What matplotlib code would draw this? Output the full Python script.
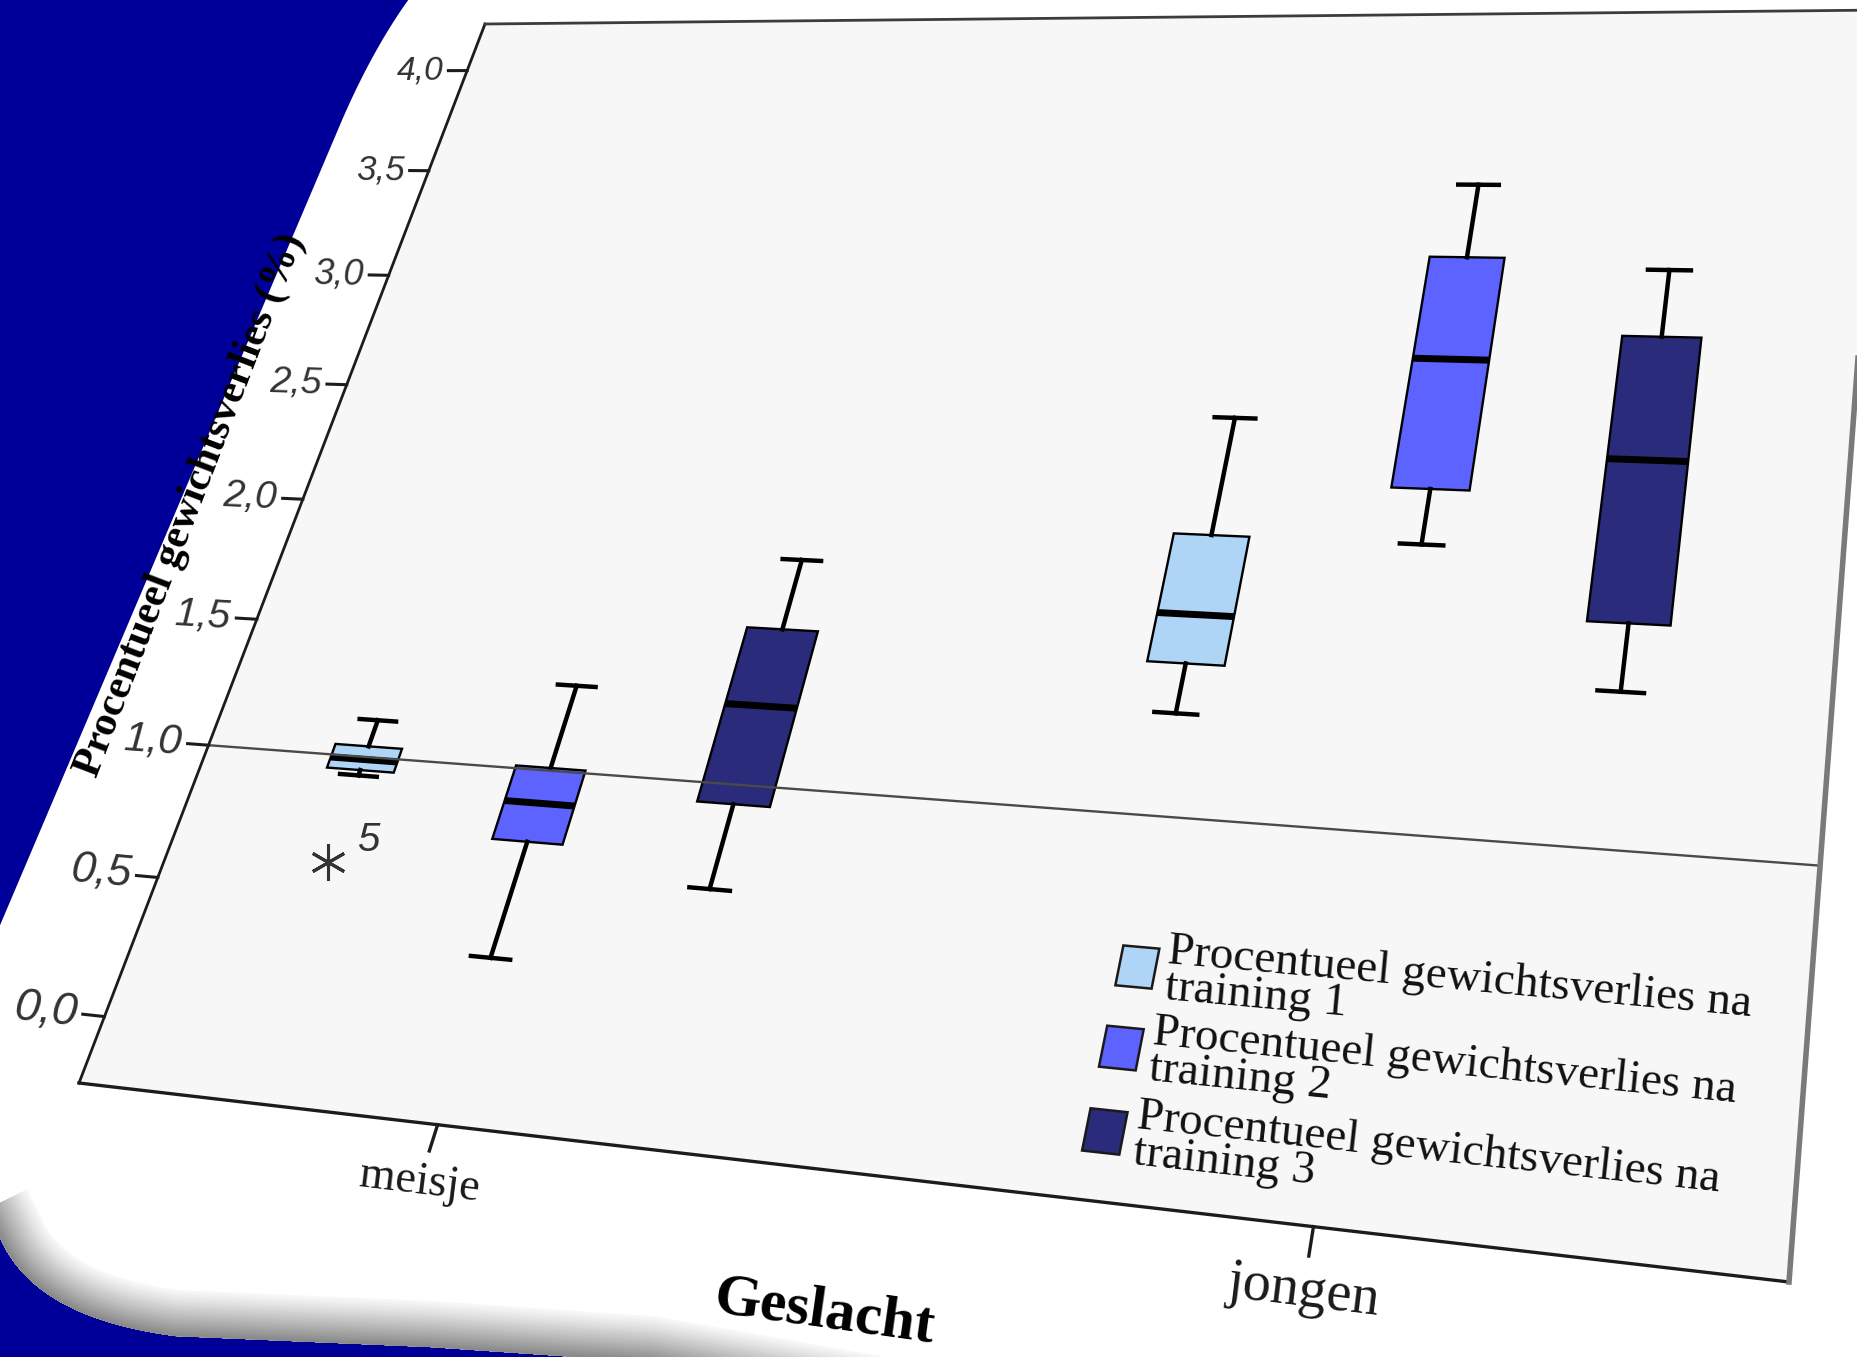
import numpy as np
import matplotlib
matplotlib.use("Agg")
import matplotlib.pyplot as plt
from matplotlib import transforms as mtransforms
from matplotlib.patches import Polygon
from matplotlib.path import Path

# ---------------------------------------------------------------- data
groups = ["meisje", "jongen"]
series_labels = [
    "Procentueel gewichtsverlies na\ntraining 1",
    "Procentueel gewichtsverlies na\ntraining 2",
    "Procentueel gewichtsverlies na\ntraining 3",
]
series_colors = ["#aed5f5", "#5d63fe", "#2a2b7b"]

# five-number summaries per group (meisje, jongen)
t1_low = [0.93, 1.36]
t1_q1 = [0.95, 1.54]
t1_med = [0.99, 1.72]
t1_q3 = [1.04, 2.02]
t1_high = [1.14, 2.48]

t2_low = [0.33, 2.02]
t2_q1 = [0.74, 2.23]
t2_med = [0.88, 2.74]
t2_q3 = [1.01, 3.16]
t2_high = [1.32, 3.47]

t3_low = [0.63, 1.53]
t3_q1 = [0.93, 1.77]
t3_med = [1.29, 2.37]
t3_q3 = [1.58, 2.85]
t3_high = [1.85, 3.12]

# extreme value: meisje, training 1, case number 5
t1_extremes = [[0.61], []]
t1_extreme_ids = [["5"], []]

reference_value = 1.0
y_ticks = [0.0, 0.5, 1.0, 1.5, 2.0, 2.5, 3.0, 3.5, 4.0]
y_tick_labels = ["0,0", "0,5", "1,0", "1,5", "2,0", "2,5", "3,0", "3,5", "4,0"]
y_label = "Procentueel gewichtsverlies (%)"
x_label = "Geslacht"

# ---------------------------------------------------------------- figure
W, H = 1858, 1357
DPI = 100
fig = plt.figure(figsize=(W / DPI, H / DPI), dpi=DPI)
fig.patch.set_facecolor("#000099")

SERIF = "Liberation Serif"
SANS = "Liberation Sans"

# slide shape behind the chart, in image pixel coordinates
bg = fig.add_axes([0, 0, 1, 1])
bg.set_xlim(0, W)
bg.set_ylim(H, 0)
bg.set_axis_off()
bg.patch.set_visible(False)


def bezier(p0, p1, p2, p3, n=40):
    t = np.linspace(0, 1, n)[:, None]
    p0, p1, p2, p3 = (np.asarray(p, float) for p in (p0, p1, p2, p3))
    return ((1 - t) ** 3 * p0 + 3 * (1 - t) ** 2 * t * p1
            + 3 * (1 - t) * t ** 2 * p2 + t ** 3 * p3)


top_curve = bezier((412, -5), (396, 16), (366, 62), (337, 132))
corner_curve = bezier((0, 1238), (25, 1294), (85, 1324), (175, 1336))
bottom_edge = np.vstack([[(-14, 1210)], corner_curve,
                         [(430, 1347), (650, 1362), (950, 1415),
                          (1200, 1460)]])

slide_outline = np.vstack([[(W + 5, -5)], top_curve,
                           [(-2, 930), (-20, 930), (-20, 1180)],
                           bottom_edge,
                           [(W + 5, 1460)]])
slide = Polygon(slide_outline, closed=True, facecolor="white",
                edgecolor="none", zorder=0)
bg.add_patch(slide)

# soft grey rim along the lower-left edge of the slide
d = np.gradient(bottom_edge, axis=0)
d /= np.hypot(d[:, 0], d[:, 1])[:, None]
inward = np.column_stack([d[:, 1], -d[:, 0]])
n_steps = 22
for i in range(n_steps):
    f = i / (n_steps - 1)
    depth = 46 - 44 * f
    g = 0.97 - 0.43 * f ** 1.1
    inner = bottom_edge + inward * depth
    band = Polygon(np.vstack([bottom_edge - inward * 2, inner[::-1]]),
                   closed=True, facecolor=(g, g, g), edgecolor="none",
                   zorder=1)
    band.set_clip_path(slide)
    bg.add_patch(band)

# ---------------------------------------------------------------- chart
class QuadTransform(mtransforms.Transform):
    """Projective map from the unit square onto a quadrilateral."""
    input_dims = 2
    output_dims = 2
    is_separable = False
    has_inverse = False

    def __init__(self, matrix):
        super().__init__()
        self.matrix = np.asarray(matrix, float)

    def transform_non_affine(self, values):
        v = np.atleast_2d(np.asarray(values, float))
        p = np.column_stack([v, np.ones(len(v))]) @ self.matrix.T
        return p[:, :2] / p[:, 2:3]


def solve_homography(src, dst):
    rows, rhs = [], []
    for (x, y), (u, v) in zip(src, dst):
        rows.append([x, y, 1, 0, 0, 0, -u * x, -u * y]); rhs.append(u)
        rows.append([0, 0, 0, x, y, 1, -v * x, -v * y]); rhs.append(v)
    h = np.linalg.solve(np.array(rows, float), np.array(rhs, float))
    return np.append(h, 1.0).reshape(3, 3)


# frame corners of the plot area (display pixels, origin bottom-left)
corner_bl = (79, H - 1083)
corner_br = (1789, H - 1282)
corner_tr = (1884, H - 10)
corner_tl = (485, H - 24)
Hm = solve_homography([(0, 0), (1, 0), (1, 1), (0, 1)],
                      [corner_bl, corner_br, corner_tr, corner_tl])

ax = fig.add_axes([0, 0, 1, 1])
ax.set_axis_off()
ax.patch.set_visible(False)

XMIN, XMAX = 0.53, 2.47
YMIN, YMAX = -0.23, 4.24

trans_frac = QuadTransform(Hm)

# boxplots, drawn by matplotlib's bxp and then mapped through the perspective
centers = np.array([1.0, 2.0])
offsets = [-0.25, 0.0, 0.245]
box_w = 0.092
summaries = [
    (t1_low, t1_q1, t1_med, t1_q3, t1_high),
    (t2_low, t2_q1, t2_med, t2_q3, t2_high),
    (t3_low, t3_q1, t3_med, t3_q3, t3_high),
]
artists_all = []
for k, (lo, q1, md, q3, hi) in enumerate(summaries):
    stats = []
    for g in range(len(groups)):
        fl = t1_extremes[g] if k == 0 else []
        stats.append(dict(med=md[g], q1=q1[g], q3=q3[g], whislo=lo[g],
                          whishi=hi[g], fliers=np.array(fl, float)))
    res = ax.bxp(stats, positions=centers + offsets[k], widths=box_w,
                 capwidths=box_w * 0.55, patch_artist=True,
                 boxprops=dict(facecolor=series_colors[k], edgecolor="black",
                               linewidth=1.7),
                 medianprops=dict(color="black", linewidth=5.0),
                 whiskerprops=dict(color="black", linewidth=3.2),
                 capprops=dict(color="black", linewidth=3.2),
                 flierprops=dict(marker=(6, 2, 0), markersize=26,
                                 markeredgecolor="#333333",
                                 markeredgewidth=2.2, linestyle="none"),
                 manage_ticks=False)
    for key in ("boxes", "medians", "whiskers", "caps", "fliers"):
        artists_all.extend(res[key])

ax.set_xlim(XMIN, XMAX)
ax.set_ylim(YMIN, YMAX)
ax.set_autoscale_on(False)
trans_data = ax.transScale + ax.transLimits + trans_frac

for a in artists_all:
    a.set_transform(trans_data)
    a.set_clip_on(False)
    a.set_zorder(3)


def local_geom(x, y, dx=1e-3):
    p0 = trans_data.transform((x, y))
    p1 = trans_data.transform((x + dx, y))
    ang = np.degrees(np.arctan2(p1[1] - p0[1], p1[0] - p0[0]))
    return ang, np.hypot(*(p1 - p0)) / dx


# plot area and frame
ax.add_patch(Polygon([(0, 0), (1, 0), (1, 1), (0, 1)], closed=True,
                     transform=trans_frac, facecolor="#f7f7f7",
                     edgecolor="none", zorder=1))
frame_edges = [([0, 0], [0, 1], "#1c1c1c", 2.0),
               ([0, 1], [0, 0], "#1c1c1c", 2.4),
               ([0, 1], [1, 1], "#3c3c3c", 2.0),
               ([1, 1], [0, 1], "#7a7a7a", 4.0)]
for xs, ys, col, lw in frame_edges:
    ln = plt.Line2D(xs, ys, color=col, lw=lw, transform=trans_frac,
                    zorder=5, solid_capstyle="projecting")
    ax.add_artist(ln)

# reference line
ref = plt.Line2D([XMIN, XMAX], [reference_value, reference_value],
                 color="#4a4a4a", lw=1.7, transform=trans_data, zorder=4)
ax.add_artist(ref)

# y ticks and labels
_, sc_mid = local_geom(XMIN, 2.0)
for v, lab in zip(y_ticks, y_tick_labels):
    ax.add_artist(plt.Line2D([XMIN, XMIN - 0.03], [v, v], color="#1c1c1c",
                             lw=2.2, transform=trans_data, zorder=5))
    ang, sc = local_geom(XMIN, v)
    ax.text(XMIN - 0.038, v, lab, transform=trans_data, ha="right",
            va="center", rotation=ang, rotation_mode="anchor",
            fontsize=28 * (sc / sc_mid) ** 2.0, family=SANS, style="italic",
            color="#333333", zorder=6)

# y axis label, running along the axis
p_a = trans_frac.transform((0, 0.3))
p_b = trans_frac.transform((0, 0.7))
y_ang = np.degrees(np.arctan2(p_b[1] - p_a[1], p_b[0] - p_a[0]))
bg.text(191, 505, y_label, ha="center", va="center", rotation=y_ang,
        rotation_mode="anchor", fontsize=30.5, family=SERIF,
        fontweight="bold", color="black", zorder=6)

# category ticks and labels
_, sc_bottom = local_geom(centers[0], YMIN)
for c, name in zip(centers, groups):
    ax.add_artist(plt.Line2D([c, c], [YMIN, YMIN - 0.085], color="#1c1c1c",
                             lw=2.4, transform=trans_data, zorder=5))
    ang, sc = local_geom(c, YMIN - 0.18)
    ax.text(c, YMIN - 0.185, name, transform=trans_data, ha="center",
            va="center", rotation=ang, rotation_mode="anchor",
            fontsize=33 * sc / sc_bottom, family=SERIF, color="#1a1a1a",
            zorder=6)

# case label of the extreme value
for g, (vals, ids) in enumerate(zip(t1_extremes, t1_extreme_ids)):
    for v, cid in zip(vals, ids):
        ax.annotate(cid, xy=(centers[g] + offsets[0], v), xycoords=trans_data,
                    xytext=(21, 2), textcoords="offset points",
                    ha="left", va="bottom", fontsize=29, family=SANS,
                    style="italic", color="#333333", zorder=6,
                    annotation_clip=False)

# x axis title
bg.text(824, 1313, x_label, ha="center", va="center", rotation=-8,
        rotation_mode="anchor", fontsize=43, family=SERIF,
        fontweight="bold", color="black", zorder=6)

# legend inside the plot area
leg_s = 0.636
leg_t = [0.163, 0.105, 0.047]
half_s, half_t = 0.0105, 0.0145
for k in range(3):
    t = leg_t[k]
    ax.add_patch(Polygon([(leg_s - half_s, t - half_t), (leg_s + half_s, t - half_t),
                          (leg_s + half_s, t + half_t), (leg_s - half_s, t + half_t)],
                         closed=True, transform=trans_frac,
                         facecolor=series_colors[k], edgecolor="#1a1a1a",
                         lw=1.8, zorder=5))
    p0 = trans_frac.transform((leg_s + 0.02, t))
    p1 = trans_frac.transform((leg_s + 0.2, t))
    ang = np.degrees(np.arctan2(p1[1] - p0[1], p1[0] - p0[0]))
    ax.text(leg_s + 0.017, t, series_labels[k], transform=trans_frac,
            ha="left", va="center", rotation=ang, rotation_mode="anchor",
            fontsize=34, family=SERIF, color="#111111", linespacing=0.8,
            zorder=6)

fig.savefig("out.png", dpi=DPI, facecolor=fig.get_facecolor())
